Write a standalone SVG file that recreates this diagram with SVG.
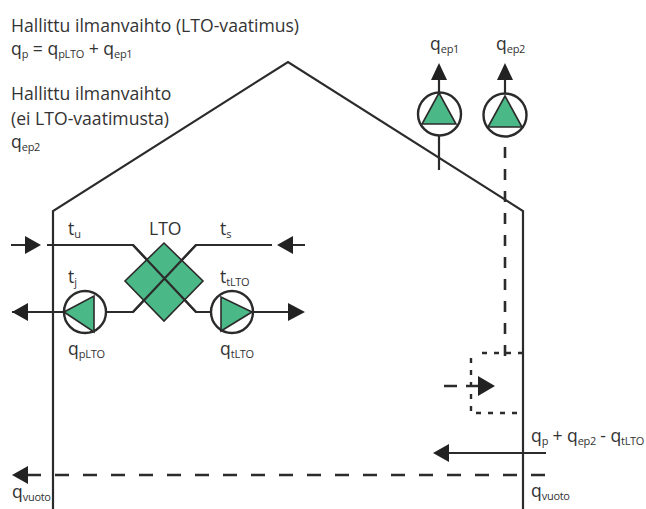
<svg xmlns="http://www.w3.org/2000/svg" width="646" height="509" viewBox="0 0 646 509">
<style>
text{font-family:"Open Sans","Noto Sans","Liberation Sans",sans-serif;font-size:17.6px;fill:#333}
.s{font-size:11px;letter-spacing:-.3px}
.l{fill:none;stroke:#2b2b2b;stroke-width:2.2}
.d{fill:none;stroke:#2b2b2b;stroke-width:2.6;stroke-dasharray:14 14}
.a{fill:none;stroke:#2b2b2b;stroke-width:2.4;stroke-dasharray:13 9}
.v{fill:none;stroke:#2b2b2b;stroke-width:2.6;stroke-dasharray:11 11}
.o{fill:none;stroke:#2b2b2b;stroke-width:2.4;stroke-dasharray:5 7}
.p{fill:#fff;stroke:#2b2b2b;stroke-width:2.4}
.g{fill:#4bb887;stroke:#2b2b2b;stroke-width:1.6}
.h{fill:#222}
</style>
<g id="connectors">
<path id="house" class="l" d="M53 509V211L288 62 523 211V509"/>
<path class="l" d="M47 245H133L196 312H212"/>
<path class="l" d="M272 245H196L133 312H63"/>
<path class="l" d="M12 312H63M252 312H290"/>
<path class="l" d="M11 245H28M293 245H305"/>
<path class="h" d="M25 236L41 245 25 254ZM293 236L277 245 293 254ZM28 303L12 312 28 321ZM288 303L305 312 288 321Z"/>
<path class="l" d="M439 170V78M505 137V78"/>
<path class="h" d="M439 63L447 80H431ZM505 63L513 80H497Z"/>
<path class="v" d="M505 147V363"/>
<path class="o" d="M523 353H475M471 358V413H523"/>
<path class="a" d="M444 386H480"/>
<path class="h" d="M478 376L495 386 478 396Z"/>
<path class="l" d="M546 453H446"/>
<path class="h" d="M449 444L433 453 449 462Z"/>
<path class="d" d="M545 475H25"/>
<path class="h" d="M28 466L12 475 28 484Z"/>
</g>
<g id="lto">
<path class="g" d="M164 243L203 281 164 321 125 281Z"/>
<path class="l" d="M133 245L196 312M196 245L133 312"/>
<text x="149" y="235">LTO</text>
</g>
<g id="pump-pLTO"><circle class="p" cx="85" cy="312" r="21"/><path class="g" d="M64 312L94 296V332Z"/></g>
<g id="pump-tLTO"><circle class="p" cx="232" cy="312" r="21"/><path class="g" d="M252 312L221 297V331Z"/></g>
<g id="pump-ep1"><circle class="p" cx="439.500" cy="114" r="21.500"/><path class="g" d="M439 93L456 124H422Z"/></g>
<g id="pump-ep2"><circle class="p" cx="505" cy="115" r="21.500"/><path class="g" d="M505 96L522 127H488Z"/></g>
<g id="labels">
<text x="11" y="32">Hallittu ilmanvaihto (LTO-vaatimus)</text>
<text x="11" y="55">q<tspan class="s" dy="3">p</tspan><tspan dy="-3"> = q</tspan><tspan class="s" dy="3">pLTO</tspan><tspan dy="-3"> + q</tspan><tspan class="s" dy="3">ep1</tspan></text>
<text x="11" y="100">Hallittu ilmanvaihto</text>
<text x="11" y="125">(ei LTO-vaatimusta)</text>
<text x="11" y="148">q<tspan class="s" dy="3">ep2</tspan></text>
<text x="68" y="235">t<tspan class="s" dy="3">u</tspan></text>
<text x="220" y="235">t<tspan class="s" dy="3">s</tspan></text>
<text x="68" y="283">t<tspan class="s" dy="3">j</tspan></text>
<text x="220" y="283">t<tspan class="s" dy="3">tLTO</tspan></text>
<text x="68" y="355">q<tspan class="s" dy="3">pLTO</tspan></text>
<text x="220" y="355">q<tspan class="s" dy="3">tLTO</tspan></text>
<text x="430" y="50">q<tspan class="s" dy="3">ep1</tspan></text>
<text x="496" y="50">q<tspan class="s" dy="3">ep2</tspan></text>
<text x="531" y="442" textLength="113" lengthAdjust="spacing">q<tspan class="s" dy="3">p</tspan><tspan dy="-3"> + q</tspan><tspan class="s" dy="3">ep2</tspan><tspan dy="-3"> - q</tspan><tspan class="s" dy="3">tLTO</tspan></text>
<text x="531" y="497">q<tspan class="s" dy="3">vuoto</tspan></text>
<text x="12" y="498">q<tspan class="s" dy="3">vuoto</tspan></text>
</g>
</svg>
